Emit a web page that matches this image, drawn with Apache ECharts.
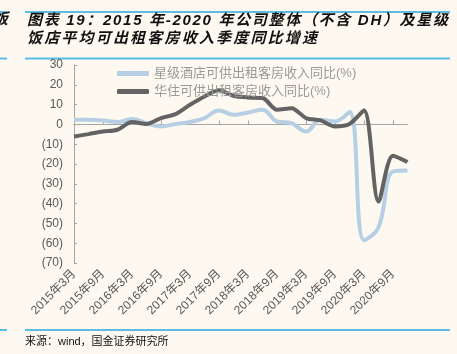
<!DOCTYPE html>
<html>
<head>
<meta charset="utf-8">
<script src="https://cdn.jsdelivr.net/npm/echarts@6/dist/echarts.min.js"></script>
<style>
  html, body { margin: 0; padding: 0; background: #fdf9f0; }
  #chart { width: 457px; height: 354px; }
</style>
</head>
<body>
<div id="chart"></div>
<script>
// quarterly periods, 2015Q1 .. 2020Q4
const quarters = [
  '2015年3月', '2015年6月', '2015年9月', '2015年12月',
  '2016年3月', '2016年6月', '2016年9月', '2016年12月',
  '2017年3月', '2017年6月', '2017年9月', '2017年12月',
  '2018年3月', '2018年6月', '2018年9月', '2018年12月',
  '2019年3月', '2019年6月', '2019年9月', '2019年12月',
  '2020年3月', '2020年6月', '2020年9月', '2020年12月'
]

const starHotelRevpar = [
  2.3, 2.3, 2.0, 1.2, 2.7, 0.6, -1.0, 0.2,
  1.2, 3.2, 7.0, 4.9, 6.0, 7.4, 1.5, 0.6,
  -3.6, 2.3, 1.5, 6.2, -58.5, -52, -23.8, -23.3
]

const huazhuRevpar = [
  -6.1, -4.9, -3.6, -2.7, 1.2, 0.2, 3.2, 5.2,
  9.9, 14.1, 17.2, 14.5, 13.6, 13.3, 7.4, 8.2,
  3.2, 2.0, -1.0, 0.2, 7.0, -39.0, -15.8, -19.0
]

const seriesNames = ['星级酒店可供出租客房收入同比(%)', '华住可供出租客房收入同比(%)']
const yTicks = { min: -70, max: 30, step: 10 }

const titleLines = [
  '图表 19：2015 年-2020 年公司整体（不含 DH）及星级',
  '饭店平均可出租客房收入季度同比增速'
]
const sourceText = '来源：wind，国金证券研究所'

const chart = echarts.init(document.getElementById('chart'))

const labelFont = 'Liberation Sans, Arial, Noto Sans CJK SC, sans-serif'
const titleFont = 'italic bold 15px Liberation Sans, Noto Sans CJK SC'
const blue = '#5bbce4'

// spread a string's characters so the line spans the given width
const measureCtx = document.createElement('canvas').getContext('2d')
function spacedText(str, x, y, width, font, fill) {
  measureCtx.font = font
  const chars = Array.from(str)
  const natural = chars.reduce((s, c) => s + measureCtx.measureText(c).width, 0)
  const gap = (width - natural - measureCtx.measureText(chars[chars.length - 1]).width * 0) / (chars.length - 1)
  let cx = x
  return {
    type: 'group',
    children: chars.map((c) => {
      const el = { type: 'text', x: cx, y: y, style: { text: c, font: font, fill: fill, textVerticalAlign: 'middle' } }
      cx += measureCtx.measureText(c).width + gap
      return el
    })
  }
}

chart.setOption({
  backgroundColor: '#fdf9f0',
  animation: false,
  textStyle: { fontFamily: labelFont },
  grid: { left: 74, right: 49.5, top: 65, bottom: 91 },
  legend: {
    orient: 'vertical',
    left: 112,
    top: 62,
    itemWidth: 32,
    itemHeight: 5,
    itemGap: 5,
    icon: 'roundRect',
    textStyle: { color: '#9a9a9a', fontSize: 13 },
    data: seriesNames
  },
  xAxis: [
    {
      type: 'category',
      data: quarters,
      boundaryGap: false,
      axisLine: { onZero: true, lineStyle: { color: '#a6a6a6', width: 1 } },
      axisTick: { inside: true, length: 4, interval: 1, lineStyle: { color: '#a6a6a6' } },
      axisLabel: { show: false }
    },
    {
      type: 'category',
      data: quarters,
      boundaryGap: false,
      position: 'bottom',
      axisLine: { show: false, onZero: false },
      axisTick: { show: false },
      axisLabel: {
        interval: 1,
        rotate: 45,
        margin: 9,
        fontSize: 12,
        color: '#595959'
      }
    }
  ],
  yAxis: {
    type: 'value',
    min: yTicks.min,
    max: yTicks.max,
    interval: yTicks.step,
    axisLine: { show: true, lineStyle: { color: '#a6a6a6' } },
    axisTick: { show: true, inside: true, length: 3, lineStyle: { color: '#a6a6a6' } },
    splitLine: { show: false },
    axisLabel: {
      margin: 11,
      fontSize: 12,
      color: '#595959',
      formatter: (v) => (v < 0 ? '(' + Math.abs(v) + ')' : String(v))
    }
  },
  series: [
    {
      name: seriesNames[0],
      type: 'line',
      data: starHotelRevpar,
      smooth: 0.4,
      showSymbol: false,
      itemStyle: { color: '#b7cfe4' },
      lineStyle: { color: '#b7cfe4', width: 4 }
    },
    {
      name: seriesNames[1],
      type: 'line',
      data: huazhuRevpar,
      smooth: 0.3,
      showSymbol: false,
      itemStyle: { color: '#636363' },
      lineStyle: { color: '#636363', width: 4 }
    }
  ],
  graphic: [
    { type: 'rect', shape: { x: 25, y: 11, width: 425, height: 2 }, style: { fill: blue } },
    { type: 'rect', shape: { x: 0, y: 11, width: 7, height: 2 }, style: { fill: blue } },
    { type: 'rect', shape: { x: 25, y: 57.5, width: 425, height: 2 }, style: { fill: blue } },
    { type: 'rect', shape: { x: 0, y: 57.5, width: 7, height: 2 }, style: { fill: blue } },
    { type: 'rect', shape: { x: 25, y: 329, width: 425, height: 2 }, style: { fill: blue } },
    { type: 'rect', shape: { x: 0, y: 329, width: 7, height: 2 }, style: { fill: blue } },
    {
      type: 'text', x: -7, y: 18,
      style: { text: '饭', font: 'italic bold 15px Noto Sans CJK SC', fill: '#111', textVerticalAlign: 'middle' }
    },
    spacedText(titleLines[0], 27, 20.5, 421, titleFont, '#111'),
    spacedText(titleLines[1], 27, 38.5, 290, titleFont, '#111'),
    {
      type: 'text', x: 25, y: 342,
      style: { text: sourceText, font: '11px Liberation Sans, Noto Sans CJK SC', fill: '#111', textVerticalAlign: 'middle' }
    }
  ]
})
</script>
</body>
</html>
